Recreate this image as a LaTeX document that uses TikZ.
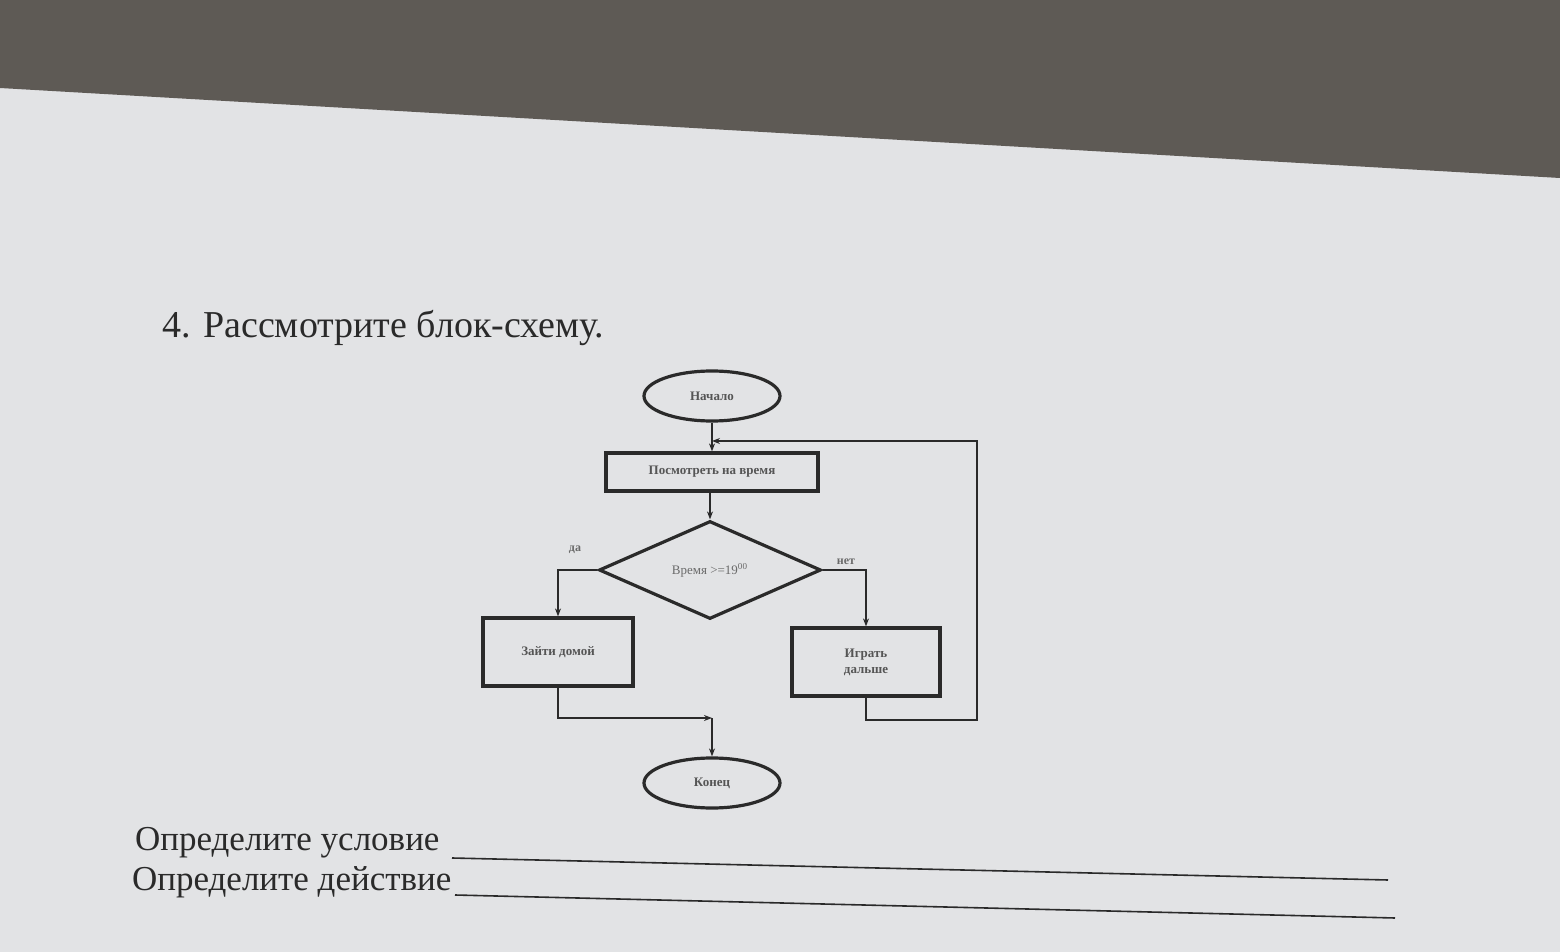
\documentclass[tikz,border=0pt]{standalone}
\usepackage{fontspec}
\setmainfont{Liberation Serif}
\usetikzlibrary{shapes.geometric,arrows.meta}
\definecolor{paper}{HTML}{E2E3E5}
\definecolor{dark}{HTML}{5E5A55}
\definecolor{ink}{HTML}{2A2A2A}
\tikzset{
  box/.style={draw=ink,line width=1.6pt,rectangle,minimum width=#1,minimum height=19pt,inner sep=0pt,font=\fontsize{6.5}{8}\selectfont\bfseries,text=ink!80,align=center},
  term/.style={draw=ink,line width=1.6pt,ellipse,minimum width=68pt,minimum height=25pt,inner sep=0pt,font=\fontsize{6.5}{8}\selectfont\bfseries,text=ink!80},
  dec/.style={draw=ink,line width=1.6pt,diamond,aspect=2.27,minimum width=111pt,minimum height=49pt,inner sep=0pt,font=\fontsize{6.5}{8}\selectfont,text=ink!70},
  con/.style={draw=ink,line width=0.8pt},
  arr/.style={con,-{Stealth[length=4pt,width=3pt]}},
  lbl/.style={font=\fontsize{6}{7}\selectfont\bfseries,text=ink!70},
  big/.style={font=\fontsize{#1}{20}\selectfont,text=ink,anchor=base west}
}
\begin{document}
\begin{tikzpicture}[x=0.5pt,y=-0.5pt]
\useasboundingbox (0,0) rectangle (1560,952);
\fill[paper] (0,0) rectangle (1560,952);
\fill[dark] (0,0) -- (1560,0) -- (1560,178) -- (0,88) -- cycle;
\node[term] (start) at (712,396) {Начало};
\node[box=106pt] (look) at (712,472) {Посмотреть на время};
\node[dec] (cond) at (710,570) {Время >=19\textsuperscript{00}};
\node[box=75pt,minimum height=34pt] (home) at (558,652) {Зайти домой};
\node[box=74pt,minimum height=34pt] (play) at (866,662) {Играть\\дальше};
\node[term] (end) at (712,783) {Конец};
\coordinate (join) at (712,441);
\coordinate (merge) at (712,718);
\draw[con] (start) -- (join);
\draw[arr] (join) -- (look);
\draw[arr] (look.south -| cond.north) -- (cond.north);
\draw[arr] (cond.west) -| (home.north);
\draw[arr] (cond.east) -| (play.north);
\draw[arr] (play.south) |- (977,720) |- (join);
\draw[arr] (home.south) |- (merge);
\draw[arr] (merge) -- (end);
\node[lbl] (yes) at (575,550) {да};
\node[lbl] (no) at (846,562) {нет};
\node[big=19] (title) at (155,338) {4. Рассмотрите блок-схему.};
\node[big=17.5] (q1) at (128,850) {Определите условие};
\node[big=17.5] (q2) at (125,890) {Определите действие};
\draw[ink,line width=0.8pt] (452,858) -- (1388,880);
\draw[ink,line width=0.8pt] (455,895) -- (1395,918);
\end{tikzpicture}
\end{document}
